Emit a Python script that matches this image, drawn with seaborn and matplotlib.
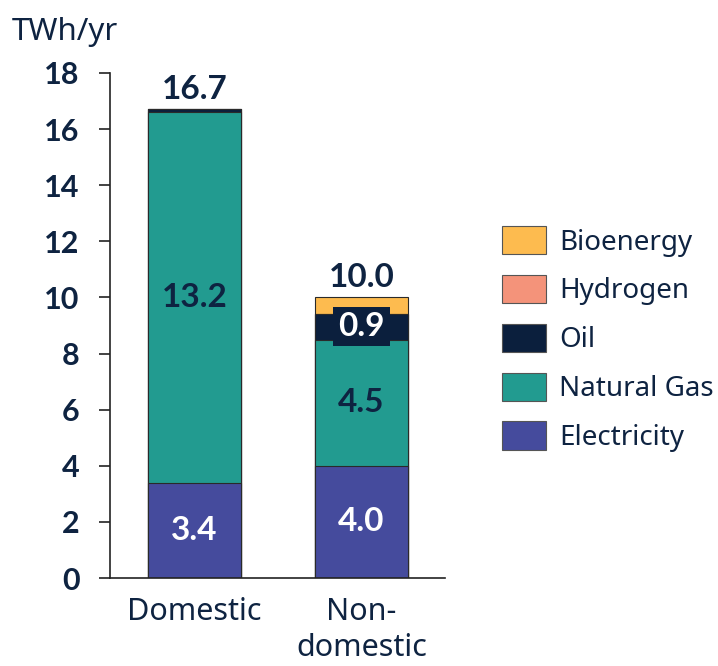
import matplotlib
matplotlib.use("Agg")
import matplotlib.pyplot as plt
from matplotlib.patches import Patch
import numpy as np
import pandas as pd
import seaborn as sns

# Energy demand by sector and fuel (TWh/yr)
sectors = ["Domestic", "Non-\ndomestic"]
fuels = ["Electricity", "Natural Gas", "Oil", "Hydrogen", "Bioenergy"]
electricity = [3.4, 4.0]
natural_gas = [13.2, 4.5]
oil = [0.1, 0.9]
hydrogen = [0.0, 0.0]
bioenergy = [0.0, 0.6]
totals = [16.7, 10.0]

colors = {
    "Electricity": "#454B9D",
    "Natural Gas": "#229B90",
    "Oil": "#0B1F3D",
    "Hydrogen": "#F4937A",
    "Bioenergy": "#FDBB4F",
}
navy = "#0E2341"

sns.set_theme(style="white")
plt.rcParams["font.family"] = ["Noto Sans", "DejaVu Sans"]
BOLD = dict(family=["Lato", "DejaVu Sans"], weight="bold")

layers = np.array([electricity, natural_gas, oil, hydrogen, bioenergy])
cumulative = np.cumsum(layers, axis=0)
df = pd.DataFrame(
    [
        {"sector": s, "fuel": f, "value": layers[i, j], "top": cumulative[i, j]}
        for i, f in enumerate(fuels)
        for j, s in enumerate(sectors)
    ]
)

fig = plt.figure(figsize=(7.18, 6.66), dpi=100)
ax = fig.add_axes([110 / 718, 88 / 666, 335 / 718, 505 / 666])

# Stacked bars: draw cumulative heights from the top layer down
for f in reversed(fuels):
    sub = df[df["fuel"] == f]
    sns.barplot(
        data=sub, x="sector", y="top", order=sectors, color=colors[f],
        width=0.557, edgecolor="#2a2a2a", linewidth=0.8, saturation=1,
        ax=ax, errorbar=None,
    )

ax.set_xlim(-0.506, 1.5)
ax.set_ylim(0, 18)
ax.set_yticks(np.arange(0, 19, 2))
ax.set_yticklabels([str(v) for v in range(0, 19, 2)], fontdict=dict(size=22, **BOLD))
ax.set_xlabel("")
ax.set_ylabel("")
sns.despine(ax=ax)
for side in ("left", "bottom"):
    ax.spines[side].set_color("#222222")
    ax.spines[side].set_linewidth(1.2)
ax.tick_params(axis="y", which="both", left=True, length=8, width=1.2,
               color="#222222", pad=14, labelcolor=navy)
ax.tick_params(axis="x", bottom=False, pad=8, labelsize=22, labelcolor=navy)
for lbl in ax.get_xticklabels():
    lbl.set_linespacing(1.25)
    lbl.set_verticalalignment("top")

# Segment labels
def seg_label(j, i, color, box=None):
    y = cumulative[i, j] - layers[i, j] / 2
    ax.text(j, y, f"{layers[i, j]:.1f}", ha="center", va="center",
            fontsize=24, color=color, bbox=box, **BOLD)

seg_label(0, 0, "white")
seg_label(0, 1, navy)
seg_label(1, 0, "white")
seg_label(1, 1, navy)
seg_label(1, 2, "white",
          box=dict(boxstyle="square,pad=0.15", fc=colors["Oil"], ec="none"))

for j, t in enumerate(totals):
    ax.annotate(f"{t:.1f}", (j, t), xytext=(0, 4), textcoords="offset points",
                ha="center", va="bottom", fontsize=24, color=navy, **BOLD)

fig.text(12 / 718, 1 - 32 / 666, "TWh/yr", ha="left", va="center",
         fontsize=22.5, color=navy)

handles = [Patch(facecolor=colors[f], edgecolor="#555555", linewidth=0.8,
                 label=f) for f in reversed(fuels)]
fig.legend(handles=handles, loc="upper left",
           bbox_to_anchor=(502 / 718, 1 - 226 / 666), frameon=False,
           fontsize=20, handlelength=1.6, handleheight=1.19,
           labelspacing=0.66, handletextpad=0.45, borderpad=0,
           borderaxespad=0, labelcolor=navy)

fig.savefig("out.png", dpi=100)
